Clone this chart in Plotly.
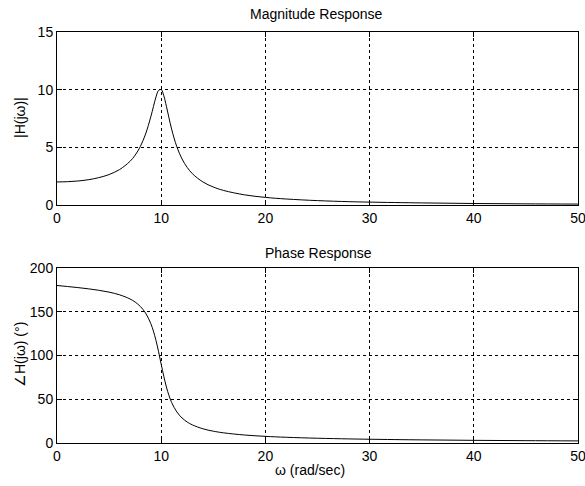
import plotly.graph_objects as go
from plotly.subplots import make_subplots

omega = [0, 1, 2, 3, 4, 5, 6, 7, 7.5, 8, 8.5, 9, 9.25, 9.5, 9.75, 10, 10.25, 10.5, 10.75,
         11, 11.5, 12, 12.5, 13, 14, 15, 16, 18, 20, 22, 25, 28, 30, 35, 40, 45, 50]
magnitude = [2.0, 2.02, 2.08, 2.19, 2.37, 2.64, 3.07, 3.78, 4.32, 5.08, 6.15, 7.64, 8.52, 9.37, 9.94,
             10.0, 9.47, 8.56, 7.54, 6.58, 5.05, 3.99, 3.25, 2.71, 2.0, 1.56, 1.26, 0.88, 0.66,
             0.52, 0.38, 0.29, 0.25, 0.18, 0.13, 0.10, 0.08]
phase = [180.0, 178.84, 177.61, 176.23, 174.56, 172.41, 169.38, 164.65, 161.08, 156.04, 148.51,
         136.55, 127.97, 117.17, 104.21, 90.0, 76.13, 63.98, 54.10, 46.33, 35.50, 28.61, 23.96,
         20.65, 16.26, 13.50, 11.59, 9.13, 7.60, 6.54, 5.44, 4.68, 4.29, 3.56, 3.05, 2.68, 2.39]

x_ticks = [0, 10, 20, 30, 40, 50]
mag_ticks = [0, 5, 10, 15]
phase_ticks = [0, 50, 100, 150, 200]

W, H = 585, 486
L, R, T, B = 57, 7, 32, 43
ph = H - T - B

def py(p):
    return (H - B - p) / ph

def px(p):
    return (p - L) / (W - L - R)

fig = make_subplots(rows=2, cols=1)
fig.add_trace(go.Scatter(x=omega, y=magnitude, mode="lines", line=dict(color="black", width=1, shape="spline"),
                         showlegend=False), row=1, col=1)
fig.add_trace(go.Scatter(x=omega, y=phase, mode="lines", line=dict(color="black", width=1, shape="spline"),
                         showlegend=False), row=2, col=1)

axis_common = dict(showgrid=True, gridcolor="black", griddash="dot", gridwidth=1,
                   showline=True, linecolor="black", linewidth=1, mirror="allticks",
                   ticks="inside", ticklen=5, tickcolor="black", zeroline=False,
                   ticklabeloverflow="allow", automargin=False,
                   tickfont=dict(family="Liberation Sans, Arial", size=14, color="black"))

fig.update_layout(
    width=W, height=H,
    margin=dict(l=L, r=R, t=T, b=B),
    paper_bgcolor="white", plot_bgcolor="white",
    xaxis=dict(domain=[0, 1], range=[0, 50], tickvals=x_ticks, anchor="y", **axis_common),
    yaxis=dict(domain=[py(205), 1], range=[0, 15], tickvals=mag_ticks, anchor="x", **axis_common),
    xaxis2=dict(domain=[0, 1], range=[0, 50], tickvals=x_ticks, anchor="y2", **axis_common),
    yaxis2=dict(domain=[0, py(268)], range=[0, 200], tickvals=phase_ticks, anchor="x2", **axis_common),
)

fnt = dict(family="Liberation Sans, Arial", size=14, color="black")
anns = [
    dict(text="Magnitude Response", x=px(316), y=py(14)),
    dict(text="Phase Response", x=px(318), y=py(253)),
    dict(text="ω (rad/sec)", x=px(310), y=py(470)),
    dict(text="|H(jω)|", x=px(20), y=py(118), textangle=-90),
    dict(text="∠H(jω) (°)", x=px(20), y=py(355), textangle=-90),
]
for a in anns:
    fig.add_annotation(xref="paper", yref="paper", showarrow=False, font=fnt,
                       xanchor="center", yanchor="middle", **a)

fig.write_html("out.html")
